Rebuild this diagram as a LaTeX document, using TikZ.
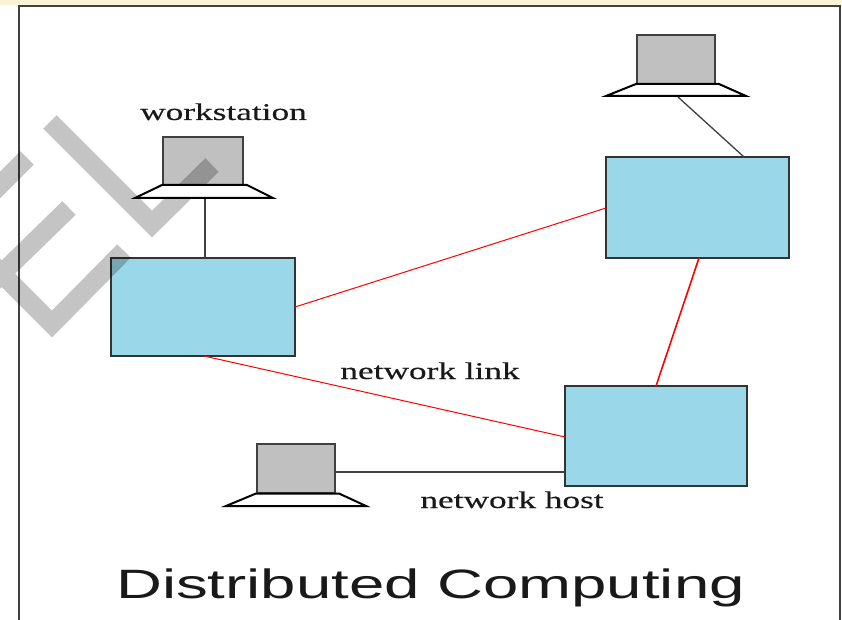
\documentclass[tikz,border=0pt]{standalone}
\usepackage{fontspec}
\setmainfont{Liberation Serif}
\newfontfamily\titlefont{Liberation Sans}
\newfontfamily\labelfont[FakeBold=0.25]{Liberation Serif}
\definecolor{hostblue}{RGB}{154,216,233}
\definecolor{screengray}{RGB}{192,192,192}
\definecolor{cream}{RGB}{250,243,215}
\newcommand{\widelabel}[1]{\scalebox{1.47}[1]{\labelfont\fontsize{24}{28}\selectfont #1}}
\tikzset{
 hostbox/.style={draw=black!80,line width=1.6pt,fill=hostblue,anchor=north west,inner sep=0pt,outer sep=0pt},
 screenbox/.style={draw=black!75,line width=1.6pt,fill=screengray,anchor=north west,inner sep=0pt,outer sep=0pt},
 basepoly/.style={draw=black,line width=2pt,fill=white,line join=miter,miter limit=10},
 netlink/.style={red,line width=1pt},
 hostlink/.style={black!75,line width=1.3pt},
 lbl/.style={inner sep=0pt,text=black!90},
 markstrip/.style={black,opacity=.23,line width=19pt,line cap=butt,line join=miter}
}
\begin{document}
\begin{tikzpicture}[x=1pt,y=-1pt]
\useasboundingbox (0,0) rectangle (842,620);
\fill[white] (0,0) rectangle (842,620);
\fill[cream] (0,0) rectangle (842,5);
\draw[black!75,line width=2pt] (19,620) -- (19,6.5) -- (840,6.5) -- (840,620);
% hosts
\node[hostbox,minimum width=184pt,minimum height=98pt] (hostA) at (111,258) {};
\node[hostbox,minimum width=183pt,minimum height=101pt] (hostB) at (606,157) {};
\node[hostbox,minimum width=182pt,minimum height=100pt] (hostC) at (565,386) {};
% workstations
\node[screenbox,minimum width=80pt,minimum height=48pt] (scrA) at (163,137) {};
\node[screenbox,minimum width=78pt,minimum height=49pt] (scrB) at (637,35) {};
\node[screenbox,minimum width=78pt,minimum height=49pt] (scrC) at (257,444) {};
% watermark
\draw[markstrip] (50,122) -- (152,224) -- (212,165)
  (27,158) -- (-10,195)
  (69,208) -- (-10,285)
  (-10,262) -- (52,324) -- (124,251);
% bases
\draw[basepoly] (162,185) -- (247,185) -- (273,198) -- (135,198) -- cycle;
\draw[basepoly] (636,84) -- (719,84) -- (746,96) -- (606,96) -- cycle;
\draw[basepoly] (256,493.5) -- (339,493.5) -- (366,506) -- (226,506) -- cycle;
\coordinate (baseA) at (205,199);
\coordinate (baseB) at (678,97);
\coordinate (linkB) at (744,157);
\coordinate (scrCr) at (335,472);
\coordinate (hostCl) at (565,472);
\coordinate (hostAe) at (295,307);
\coordinate (hostBw) at (606,208);
\coordinate (hostBs) at (699,258);
\coordinate (hostCn) at (656,386);
\coordinate (hostAs) at (204,356);
\coordinate (hostCw) at (565,437);
% links
\draw[hostlink] (baseA) -- (baseA |- hostA.north);
\draw[hostlink] (baseB) -- (linkB);
\draw[hostlink] (scrCr) -- (hostCl);
\draw[netlink] (hostAe) -- (hostBw);
\draw[netlink,line width=1.6pt] (hostBs) -- (hostCn);
\draw[netlink] (hostAs) -- (hostCw);
% labels
\node[lbl,anchor=base] (t1) at (223.5,120) {\widelabel{workstation}};
\node[lbl,anchor=base] (t2) at (430,379) {\widelabel{network link}};
\node[lbl,anchor=base] (t3) at (512,508) {\widelabel{network host}};
\node[anchor=base,inner sep=0pt,text=black!90] (title) at (430.5,598) {\scalebox{1.55}[1]{\titlefont\fontsize{41}{46}\selectfont Distributed Computing}};
\end{tikzpicture}
\end{document}
